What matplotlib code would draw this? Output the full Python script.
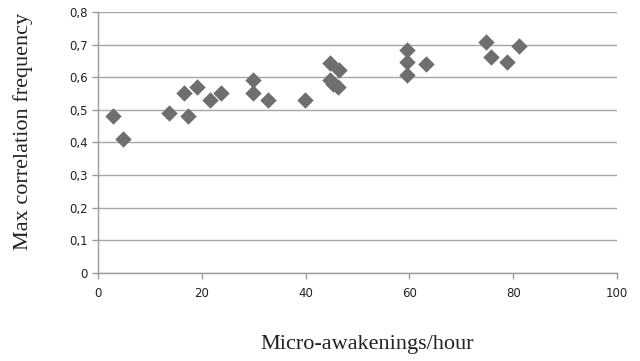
import matplotlib
matplotlib.use("Agg")
import matplotlib.pyplot as plt
from matplotlib.ticker import FuncFormatter

x_vals = [2.9, 4.8, 13.7, 16.6, 17.3, 19.0, 21.5, 23.7, 29.8, 29.8, 32.7, 39.9,
          44.7, 44.7, 45.2, 46.2, 46.5, 59.6, 59.6, 59.6, 63.2, 74.7, 75.8, 78.8, 81.1]
y_vals = [0.482, 0.41, 0.49, 0.551, 0.482, 0.571, 0.531, 0.551, 0.592, 0.551, 0.531, 0.531,
          0.643, 0.592, 0.58, 0.571, 0.623, 0.684, 0.648, 0.607, 0.641, 0.71, 0.662, 0.648, 0.697]

x_ticks = [0, 20, 40, 60, 80, 100]
y_ticks = [0, 0.1, 0.2, 0.3, 0.4, 0.5, 0.6, 0.7, 0.8]

fig = plt.figure(figsize=(6.4, 3.61), dpi=100)
ax = fig.add_axes([0.153, 0.2446, 0.811, 0.7214])
ax.scatter(x_vals, y_vals, marker='D', s=70, color='#6e6e6e', linewidths=0, zorder=3)
ax.set_xlim(0, 100)
ax.set_ylim(0, 0.8)
ax.set_xticks(x_ticks)
ax.set_yticks(y_ticks)
ax.yaxis.set_major_formatter(FuncFormatter(lambda v, p: ('%g' % round(v, 1)).replace('.', ',')))
ax.grid(axis='y', color='#a6a6a6', linewidth=1.0, zorder=0)
for s in ['top', 'right']:
    ax.spines[s].set_visible(False)
for s in ['left', 'bottom']:
    ax.spines[s].set_color('#9a9a9a')
    ax.spines[s].set_linewidth(1.0)
ax.tick_params(axis='both', colors='#9a9a9a', labelcolor='#222222', labelsize=8.5, length=4, width=1.0)
ax.tick_params(axis='x', pad=6)
for lab in ax.get_xticklabels() + ax.get_yticklabels():
    lab.set_family('DejaVu Sans')
fig.text(367/640, 0.047, 'Micro-awakenings/hour', ha='center', va='center',
         family='Liberation Serif', fontsize=16, color='#222222')
fig.text(23/640, 0.637, 'Max correlation frequency', ha='center', va='center', rotation=90,
         family='Liberation Serif', fontsize=16, color='#222222')
fig.savefig('out.png', dpi=100)
